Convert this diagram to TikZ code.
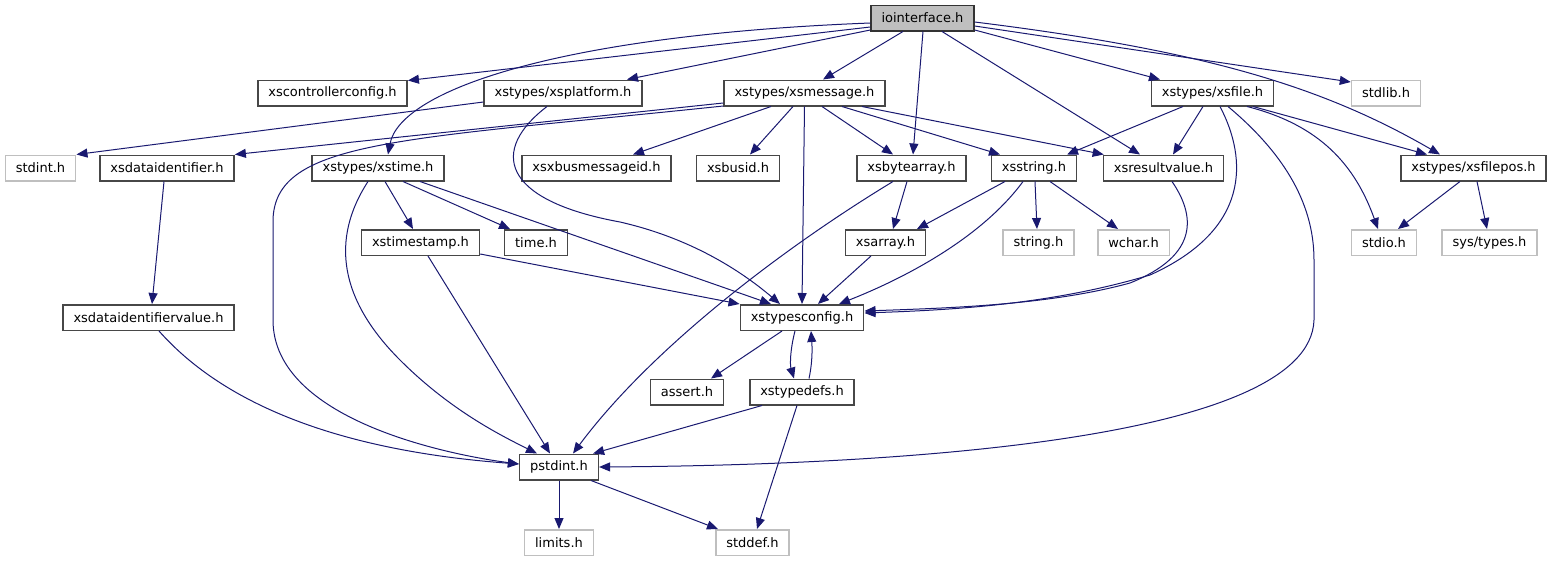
\documentclass[tikz,border=0pt]{standalone}
\usepackage{fontspec}
\setmainfont{DejaVu Sans}
\usetikzlibrary{arrows.meta}
\definecolor{midnight}{RGB}{25,25,112}
\definecolor{grey75}{RGB}{191,191,191}

\begin{document}
\begin{tikzpicture}[x=1pt,y=-1pt,
  every node/.style={draw,minimum height=25.5pt,inner xsep=10.5pt,inner ysep=0pt,font=\fontsize{13}{15}\selectfont,line width=1.5pt},
  hdr/.style={draw=black!72},
  sys/.style={draw=grey75},
  dep/.style={draw=midnight,line width=1pt,-{Triangle[length=11pt,width=9pt]}}]
\useasboundingbox (0,0) rectangle (1553,560);
\node[hdr,fill=grey75,draw=black!80] (io) at (922.5,18) {iointerface.h};
\node[hdr] (ctrl) at (332.5,93) {xscontrollerconfig.h};
\node[hdr] (plat) at (563,93) {xstypes/xsplatform.h};
\node[hdr] (msg) at (804.5,93) {xstypes/xsmessage.h};
\node[hdr] (file) at (1212.5,93) {xstypes/xsfile.h};
\node[sys] (stdlib) at (1386,93) {stdlib.h};
\node[sys] (stdint) at (40.5,168) {stdint.h};
\node[hdr] (dataid) at (167,168) {xsdataidentifier.h};
\node[hdr] (time) at (378,168) {xstypes/xstime.h};
\node[hdr] (busmsg) at (596.5,168) {xsxbusmessageid.h};
\node[hdr] (busid) at (738,168) {xsbusid.h};
\node[hdr] (bytearr) at (911.5,168) {xsbytearray.h};
\node[hdr] (string) at (1034,168) {xsstring.h};
\node[hdr] (result) at (1163.5,168) {xsresultvalue.h};
\node[hdr] (filepos) at (1473.5,168) {xstypes/xsfilepos.h};
\node[hdr] (stamp) at (420.5,242.5) {xstimestamp.h};
\node[hdr] (timeh) at (536,242.5) {time.h};
\node[hdr] (arr) at (885.5,242.5) {xsarray.h};
\node[sys] (strh) at (1038.5,242.5) {string.h};
\node[sys] (wchar) at (1133.5,242.5) {wchar.h};
\node[sys] (stdio) at (1384,242.5) {stdio.h};
\node[sys] (systypes) at (1489.5,242.5) {sys/types.h};
\node[hdr] (dataval) at (148.5,317.5) {xsdataidentifiervalue.h};
\node[hdr] (cfg) at (802,317.5) {xstypesconfig.h};
\node[hdr] (assert) at (687,392) {assert.h};
\node[hdr] (defs) at (802,392) {xstypedefs.h};
\node[hdr] (pst) at (559,467) {pstdint.h};
\node[sys] (limits) at (559,542.5) {limits.h};
\node[sys] (stddef) at (752.5,542.5) {stddef.h};
\draw[dep] ([yshift=-5]io.west) .. controls (560,35) and (400,90) .. ([xshift=10]time.north);
\draw[dep] ([yshift=-9]io.west) -- ([yshift=-1]ctrl.north east);
\draw[dep] ([yshift=-12]io.west) -- ([xshift=64]plat.north);
\draw[dep] ([xshift=-19.5]io.south) -- ([xshift=18.5]msg.north);
\draw[dep] ([xshift=0.5]io.south) -- ([xshift=1.5]bytearr.north);
\draw[dep] ([xshift=19.5]io.south) -- ([xshift=-23.5]result.north);
\draw[dep] ([yshift=-12]io.east) -- ([xshift=-52.5]file.north);
\draw[dep] ([yshift=-8]io.east) -- ([yshift=11]stdlib.west);
\draw[dep] ([yshift=-4]io.east) .. controls (1200,50) and (1320,85) .. ([xshift=-33.5]filepos.north);
\draw[dep] ([yshift=-9]plat.west) -- (stdint.north east);
\draw[dep] ([xshift=-16]plat.south) .. controls (490,150) and (500,200) .. (620,222) .. controls (690,238) and (740,270) .. ([xshift=-22]cfg.north);
\draw[dep] ([yshift=-10]msg.west) -- (dataid.north east);
\draw[dep] ([yshift=-13]msg.west) .. controls (400,140) and (275,140) .. (273,220) -- (273,320) .. controls (273,420) and (450,455) .. ([yshift=3]pst.west);
\draw[dep] ([xshift=-33.5]msg.south) -- ([xshift=36.5]busmsg.north);
\draw[dep] ([xshift=-11.5]msg.south) -- ([xshift=12]busid.north);
\draw[dep] (msg.south) -- (cfg.north);
\draw[dep] ([xshift=17.5]msg.south) -- ([xshift=-18.5]bytearr.north);
\draw[dep] ([xshift=37.5]msg.south) -- ([xshift=-34]string.north);
\draw[dep] ([xshift=57.5]msg.south) -- ([xshift=1]result.north west);
\draw[dep] ([xshift=-29.5]file.south) -- ([xshift=33]string.north);
\draw[dep] ([xshift=-9.5]file.south) -- ([xshift=9.5]result.north);
\draw[dep] ([xshift=7.5]file.south) .. controls (1248,160) and (1250,230) .. (1150,275) .. controls (1050,305) and (950,310) .. ([yshift=4.5]cfg.east);
\draw[dep] ([xshift=15.5]file.south) .. controls (1280,150) and (1314,200) .. (1314,260) -- (1314,320) .. controls (1310,440) and (900,465) .. (pst.east);
\draw[dep] ([xshift=34.5]file.south) .. controls (1320,125) and (1355,165) .. ([xshift=-6]stdio.north);
\draw[dep] ([xshift=40.5]file.south) -- ([xshift=-46.5]filepos.north);
\draw[dep] ([xshift=-3]dataid.south) -- ([xshift=3.5]dataval.north);
\draw[dep] ([xshift=7]time.south) -- ([xshift=-7.5]stamp.north);
\draw[dep] ([xshift=25]time.south) -- ([xshift=-26]timeh.north);
\draw[dep] ([xshift=42]time.south) -- ([xshift=-31]cfg.north);
\draw[dep] ([xshift=-10]time.south) .. controls (330,240) and (340,300) .. (400,360) .. controls (450,410) and (500,435) .. ([xshift=-22]pst.north);
\draw[dep] ([xshift=7.5]stamp.south) -- ([xshift=-9]pst.north);
\draw[dep] ([yshift=-11.5]stamp.east) -- (cfg.north west);
\draw[dep] ([xshift=-4.5]bytearr.south) -- ([xshift=7.5]arr.north);
\draw[dep] ([xshift=-18.5]bytearr.south) .. controls (780,250) and (650,350) .. ([xshift=14]pst.north);
\draw[dep] ([xshift=-29]string.south) -- ([xshift=31.5]arr.north);
\draw[dep] ([xshift=1]string.south) -- ([xshift=-1.5]strh.north);
\draw[dep] ([xshift=16]string.south) -- ([xshift=-15.5]wchar.north);
\draw[dep] ([xshift=-11]string.south) .. controls (980,240) and (900,280) .. ([xshift=37]cfg.north);
\draw[dep] ([xshift=8.5]result.south) .. controls (1195,215) and (1200,255) .. (1130,283) .. controls (1050,305) and (950,308) .. ([yshift=6.5]cfg.east);
\draw[dep] ([xshift=-13.5]filepos.south) -- ([xshift=14]stdio.north);
\draw[dep] ([xshift=3.5]filepos.south) -- ([xshift=-2.5]systypes.north);
\draw[dep] ([xshift=-14.5]arr.south) -- ([xshift=16]cfg.north);
\draw[dep] ([xshift=10.5]dataval.south) .. controls (220,400) and (330,450) .. ([yshift=3]pst.west);
\draw[dep] ([xshift=-20]cfg.south) -- ([xshift=24]assert.north);
\draw[dep] ([xshift=-7]cfg.south) .. controls (790,350) and (790,365) .. ([xshift=-8]defs.north);
\draw[dep] ([xshift=7]defs.north) .. controls (813,360) and (812,345) .. ([xshift=9]cfg.south);
\draw[dep] ([xshift=-40]defs.south) -- ([xshift=-6]pst.north east);
\draw[dep] ([xshift=-5]defs.south) -- ([xshift=4.5]stddef.north);
\draw[dep] (pst.south) -- (limits.north);
\draw[dep] ([xshift=32]pst.south) -- ([xshift=-34.5]stddef.north);
\end{tikzpicture}
\end{document}
